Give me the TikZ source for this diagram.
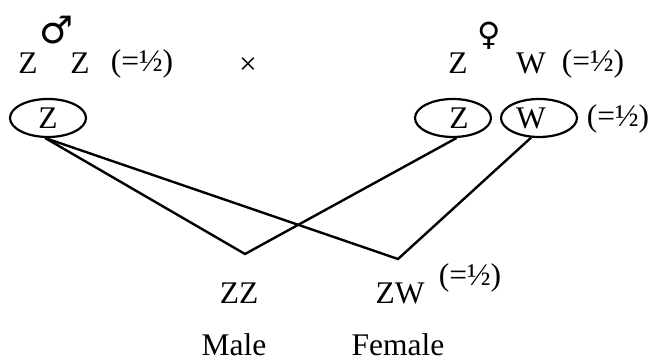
\documentclass[tikz,border=0pt]{standalone}
\usepackage{fontspec}
\setmainfont{Liberation Serif}
\newfontfamily\symfont{DejaVu Sans}
\usetikzlibrary{shapes.geometric}

\tikzset{
  txt/.style={font=\fontsize{31.5}{36}\selectfont, inner sep=0pt, anchor=base},
  gamete/.style={draw, ellipse, line width=2.2pt, inner sep=0pt,
    minimum width=76pt, minimum height=38pt, font=\fontsize{31.5}{36}\selectfont},
  sexsym/.style={inner sep=0pt},
  cross/.style={line width=2.4pt, line join=miter}
}

\begin{document}
\begin{tikzpicture}[x=1pt,y=-1pt]
    \useasboundingbox (0,0) rectangle (651,363);
    % parents
    \node[txt] (mz1) at (28,74) {Z};
    \node[sexsym, font=\symfont\fontsize{38}{40}\selectfont] (male) at (57,30) {♂};
    \node[txt] (mz2) at (80,74) {Z};
    \node[txt] (mhalf) at (142,72) {(=½)};
    \node[font=\fontsize{31.5}{36}\selectfont, inner sep=0pt] (times) at (248,66) {×};
    \node[txt] (fz) at (458,74) {Z};
    \node[sexsym, font=\symfont\fontsize{32}{34}\selectfont] (female) at (489,36) {♀};
    \node[txt] (fw) at (531,74) {W};
    \node[txt] (fhalf) at (593,72) {(=½)};
    % gametes
    \node[gamete] (gz) at (48,118) {Z};
    \node[gamete] (gzf) at (453,118) {\hspace*{12pt}Z};
    \node[gamete] (gw) at (539,118) {W\hspace*{16pt}};
    \node[txt] (ghalf) at (618,127) {(=½)};
    % offspring
    \coordinate (jzz) at (245,254);
    \coordinate (jzw) at (398,259);
    \draw[cross] (gz.-98) -- (jzz) -- (gzf.-80);
    \draw[cross] (gz.-98) -- (jzw) -- (gw.-112);
    \node[txt] (zz) at (239,304) {ZZ};
    \node[txt] (zw) at (400,304) {ZW};
    \node[txt] (zwhalf) at (470,286) {(=½)};
    \node[txt] (male2) at (234,356) {Male};
    \node[txt] (female2) at (398,356) {Female};
\end{tikzpicture}
\end{document}
